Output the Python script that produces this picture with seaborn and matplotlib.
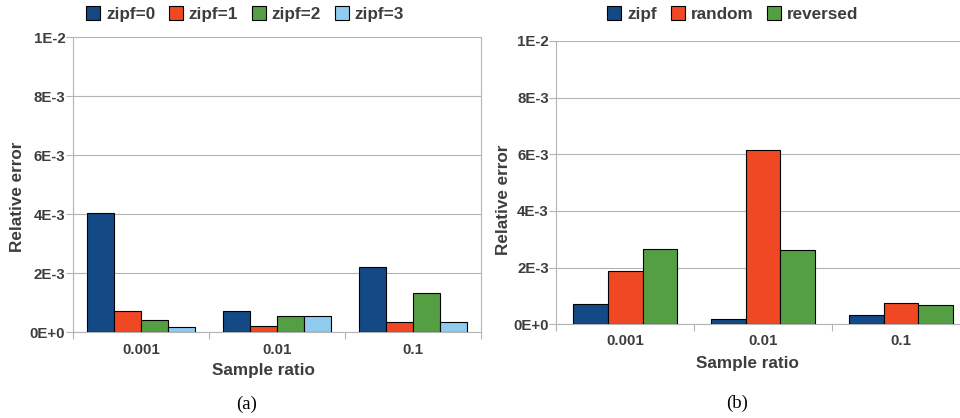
import matplotlib
matplotlib.use("Agg")
import matplotlib.pyplot as plt
import seaborn as sns
import pandas as pd
from matplotlib.patches import Patch

# ---- data ----
ratios = ["0.001", "0.01", "0.1"]
zipf_labels = ["zipf=0", "zipf=1", "zipf=2", "zipf=3"]
zipf0 = [4.05e-3, 0.72e-3, 2.21e-3]
zipf1 = [0.72e-3, 0.20e-3, 0.34e-3]
zipf2 = [0.43e-3, 0.56e-3, 1.34e-3]
zipf3 = [0.17e-3, 0.56e-3, 0.34e-3]

order_labels = ["zipf", "random", "reversed"]
order_zipf = [0.72e-3, 0.20e-3, 0.34e-3]
order_random = [1.89e-3, 6.14e-3, 0.76e-3]
order_reversed = [2.67e-3, 2.62e-3, 0.69e-3]

ytick_values = [0, 2e-3, 4e-3, 6e-3, 8e-3, 1e-2]
ytick_labels = ["0E+0", "2E-3", "4E-3", "6E-3", "8E-3", "1E-2"]
x_label = "Sample ratio"
y_label = "Relative error"
captions = ["(a)", "(b)"]

colors = ["#134a86", "#ef4822", "#549f43", "#8ecbef"]
TXT = "#3d3d3d"
GRID = "#b4b4b4"

sns.set_style("white")
plt.rcParams["font.family"] = ["Liberation Sans", "DejaVu Sans"]
plt.rcParams["font.weight"] = "bold"

df_a = pd.DataFrame({
    "ratio": ratios * 4,
    "series": sum([[l] * 3 for l in zipf_labels], []),
    "value": zipf0 + zipf1 + zipf2 + zipf3,
})
df_b = pd.DataFrame({
    "ratio": ratios * 3,
    "series": sum([[l] * 3 for l in order_labels], []),
    "value": order_zipf + order_random + order_reversed,
})

W, H = 960, 418
fig = plt.figure(figsize=(W / 100, H / 100), dpi=100)

def px_axes(l, r, t, b):
    return fig.add_axes([l / W, 1 - b / H, (r - l) / W, (b - t) / H])

ax_a = px_axes(73, 481, 37, 332.3)
ax_b = px_axes(556.3, 970, 41, 324.3)


def style(ax, df, labels, width, lab_x, lab_y, ylab_x, ylab_y, xpad):
    sns.barplot(data=df, x="ratio", y="value", hue="series", hue_order=labels,
                order=ratios, palette=colors[:len(labels)], width=width,
                edgecolor="black", linewidth=0.8, ax=ax, legend=False,
                saturation=1, zorder=3)
    ax.set_xlim(-0.5, 2.5)
    ax.set_ylim(0, 0.01)
    ax.set_yticks(ytick_values)
    ax.set_yticklabels(ytick_labels)
    ax.yaxis.grid(True, color=GRID, linewidth=0.8, zorder=0)
    ax.set_axisbelow(True)
    ax.set_xticks([0, 1, 2])
    ax.set_xticklabels(ratios)
    ax.set_xticks([-0.5, 0.5, 1.5, 2.5], minor=True)
    ax.tick_params(axis="x", which="major", length=0, pad=xpad,
                   labelsize=10.8, labelcolor=TXT)
    ax.tick_params(axis="x", which="minor", length=5, width=0.8, color=GRID,
                   direction="out", bottom=True)
    ax.tick_params(axis="y", length=5, width=0.8, color=GRID, pad=0.5,
                   labelsize=10.8, labelcolor=TXT, left=True, direction="out")
    for lab in ax.get_xticklabels() + ax.get_yticklabels():
        lab.set_fontweight("bold")
    for s in ["left", "bottom", "right"]:
        ax.spines[s].set_visible(True)
        ax.spines[s].set_color(GRID)
        ax.spines[s].set_linewidth(0.8)
    ax.spines["top"].set_visible(False)
    ax.set_xlabel(x_label, fontsize=12.3, fontweight="bold", color=TXT)
    ax.set_ylabel(y_label, fontsize=12.3, fontweight="bold", color=TXT)
    ax.xaxis.set_label_coords(lab_x, lab_y)
    ax.yaxis.set_label_coords(ylab_x, ylab_y)
    ax.xaxis.label.set_va("center")
    ax.yaxis.label.set_va("center")


style(ax_a, df_a, zipf_labels, 0.8, 0.466, -0.131, -0.135, 0.458, 7.5)
style(ax_b, df_b, order_labels, 0.754, 0.461, -0.137, -0.128, 0.44, 7.0)


def legend(labels, cx, cy):
    handles = [Patch(facecolor=colors[i], edgecolor="black", linewidth=0.8)
               for i in range(len(labels))]
    fig.legend(handles, labels, loc="center", bbox_to_anchor=(cx / W, 1 - cy / H),
               ncol=len(labels), frameon=False, handlelength=0.82,
               handleheight=0.82, handletextpad=0.35, columnspacing=0.8,
               borderpad=0, borderaxespad=0,
               prop={"size": 12.3, "weight": "bold"}, labelcolor=TXT)

legend(zipf_labels, 245, 14)
legend(order_labels, 733, 14)

fig.text(247 / W, 1 - 404 / H, captions[0], ha="center", va="center",
         fontsize=13.5, family=["Liberation Serif", "DejaVu Serif"],
         fontweight="normal", color="black")
fig.text(737 / W, 1 - 403 / H, captions[1], ha="center", va="center",
         fontsize=13.5, family=["Liberation Serif", "DejaVu Serif"],
         fontweight="normal", color="black")

fig.savefig("out.png", dpi=100)
